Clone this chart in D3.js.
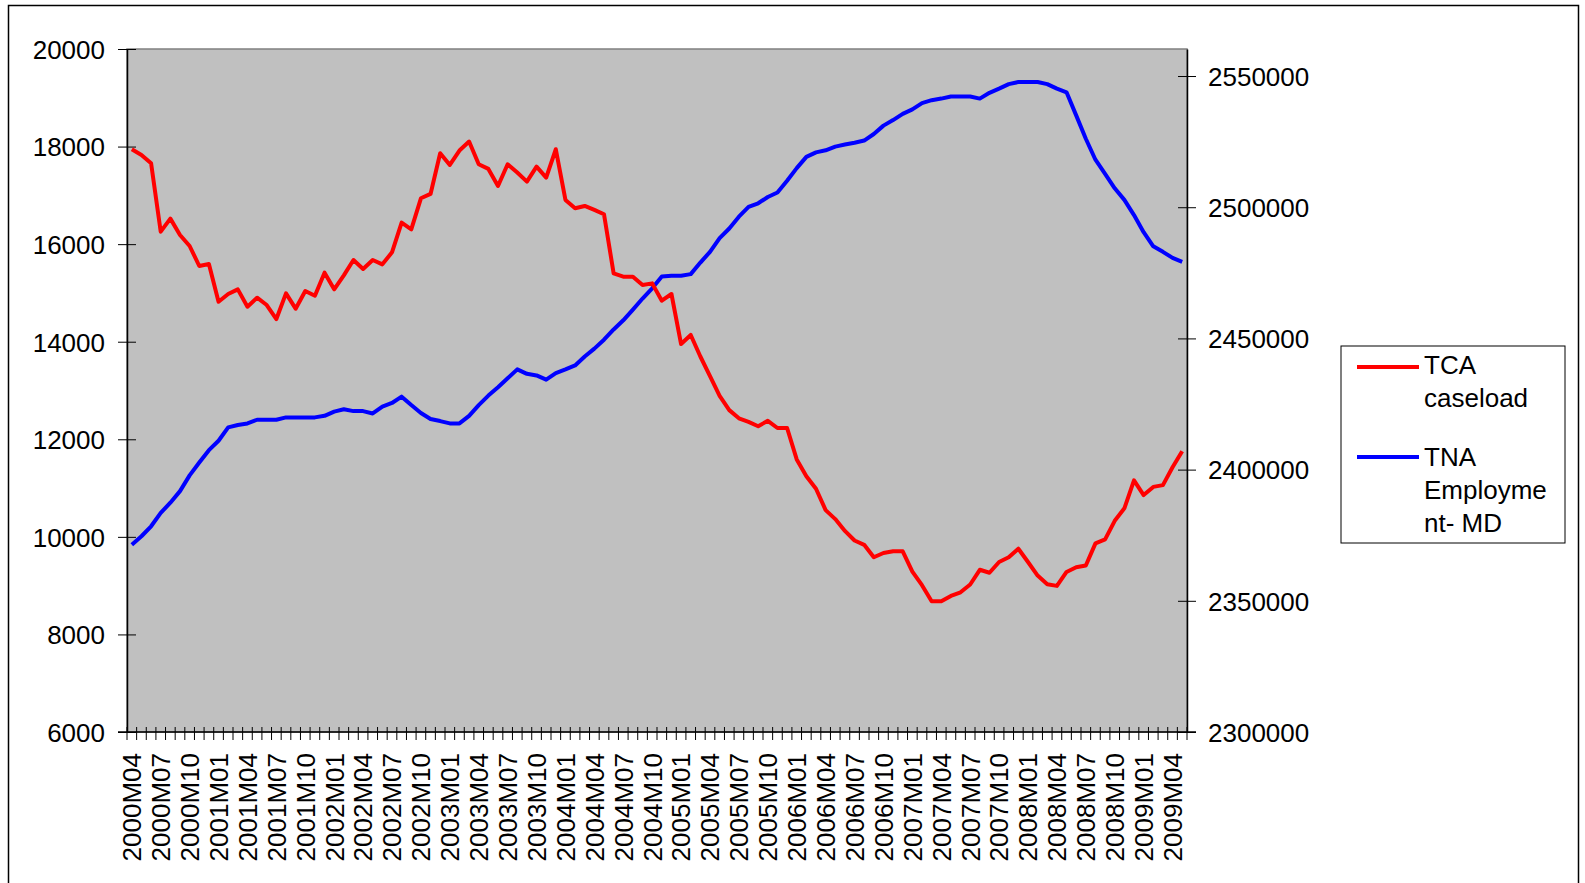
<!DOCTYPE html>
<html>
<head>
<meta charset="utf-8">
<script src="https://cdn.jsdelivr.net/npm/d3@7"></script>
<style>
  body { margin: 0; background: #fff; }
  svg text { font-family: "Liberation Sans", Arial, sans-serif; fill: #000; }
</style>
</head>
<body>
<div id="chart"></div>
<script>
// Common dimensions
const width = 1585, height = 883;
const plot = { left: 127, top: 49, right: 1187, bottom: 732 };

// Months 2000M04 .. 2009M05
const months = [];
for (let y = 2000, m = 4; months.length < 110; m++) {
    if (m > 12) { m = 1; y++; }
    months.push(`${y}M${String(m).padStart(2, "0")}`);
}

// TCA caseload (left axis)
const tcaCaseload = [
    17945, 17829, 17658, 16256, 16523, 16188, 15962, 15552, 15593, 14820,
    14978, 15073, 14718, 14902, 14752, 14465, 14991, 14677, 15039, 14943,
    15415, 15073, 15360, 15675, 15490, 15675, 15586, 15832, 16441, 16304,
    16940, 17029, 17863, 17624, 17918, 18103, 17638, 17542, 17193, 17638,
    17467, 17282, 17590, 17364, 17945, 16906, 16735, 16783, 16701, 16612,
    15402, 15333, 15333, 15162, 15196, 14840, 14978, 13953, 14138, 13697,
    13295, 12891, 12598, 12430, 12356, 12268, 12379, 12231, 12231, 11588,
    11243, 10987, 10548, 10364, 10122, 9925, 9837, 9581, 9669, 9704,
    9704, 9288, 9009, 8679, 8679, 8790, 8864, 9023, 9325, 9265,
    9485, 9581, 9757, 9485, 9206, 9030, 8995, 9280, 9376, 9413,
    9866, 9948, 10329, 10585, 11157, 10856, 11024, 11061, 11428, 11756
];

// TNA Employment - MD (right axis)
const tnaEmployment = [
    2371400, 2374600, 2378400, 2383500, 2387400, 2391800, 2397800, 2402700, 2407400, 2411000,
    2416100, 2417000, 2417600, 2419000, 2419000, 2419000, 2419900, 2419900, 2419900, 2419900,
    2420500, 2422100, 2423000, 2422300, 2422300, 2421400, 2424000, 2425400, 2427800, 2424600,
    2421600, 2419300, 2418500, 2417600, 2417600, 2420500, 2424600, 2428200, 2431400, 2434800,
    2438200, 2436500, 2435900, 2434300, 2436800, 2438200, 2439700, 2443100, 2446100, 2449500,
    2453400, 2456900, 2461000, 2465200, 2469100, 2473600, 2473900, 2473900, 2474500, 2478900,
    2483000, 2488200, 2491900, 2496400, 2500100, 2501500, 2503900, 2505600, 2510100, 2514900,
    2519200, 2520900, 2521700, 2523100, 2523900, 2524600, 2525400, 2527900, 2531100, 2533200,
    2535600, 2537300, 2539700, 2540800, 2541400, 2542200, 2542200, 2542200, 2541400, 2543600,
    2545200, 2546900, 2547700, 2547700, 2547700, 2546900, 2545200, 2543800, 2535000, 2526100,
    2518100, 2512700, 2507200, 2502800, 2497000, 2490500, 2485100, 2483000, 2480700, 2479200
];

const leftTicks = [6000, 8000, 10000, 12000, 14000, 16000, 18000, 20000];
const rightTicks = [2300000, 2350000, 2400000, 2450000, 2500000, 2550000];
const monthLabels = months.filter((d, i) => i % 3 === 0);

const svg = d3.select("#chart").append("svg")
    .attr("width", width)
    .attr("height", height);

// Outer frame
svg.append("rect")
    .attr("x", 8.5).attr("y", 5.5)
    .attr("width", 1570).attr("height", 900)
    .attr("fill", "#fff")
    .attr("stroke", "#000")
    .attr("stroke-width", 1.5);

// Scales
const x = d3.scaleBand().domain(months).range([plot.left, plot.right]).padding(0);
const yLeft = d3.scaleLinear().domain([6000, 20000]).range([plot.bottom, plot.top]);
const yRight = d3.scaleLinear().domain([2300000, 2560300]).range([plot.bottom, plot.top]);

// Plot area
svg.append("rect")
    .attr("x", plot.left).attr("y", plot.top)
    .attr("width", plot.right - plot.left)
    .attr("height", plot.bottom - plot.top)
    .attr("fill", "#c0c0c0")
    .attr("stroke", "#808080")
    .attr("stroke-width", 1.5);

// Left axis
const leftAxis = svg.append("g")
    .attr("transform", `translate(${plot.left},0)`)
    .call(d3.axisLeft(yLeft).tickValues(leftTicks).tickSizeInner(9).tickSizeOuter(0).tickPadding(13).tickFormat(d3.format("d")));
leftAxis.selectAll(".tick line").attr("x2", -9).clone().attr("x2", 9);
leftAxis.select(".domain").attr("stroke", "#000").attr("stroke-width", 1.5);
leftAxis.selectAll("text").style("font-size", "26px").attr("dy", "0.36em");

// Right axis
const rightAxis = svg.append("g")
    .attr("transform", `translate(${plot.right},0)`)
    .call(d3.axisRight(yRight).tickValues(rightTicks).tickSizeInner(9).tickSizeOuter(0).tickPadding(12).tickFormat(d3.format("d")));
rightAxis.selectAll(".tick line").clone().attr("x2", -9);
rightAxis.select(".domain").attr("stroke", "#000").attr("stroke-width", 1.5);
rightAxis.selectAll("text").style("font-size", "26px").attr("dy", "0.36em");

// Bottom axis: crossing ticks at category boundaries, labels every 3rd month
const bottom = svg.append("g");
const boundaries = months.map(d => x(d)).concat([x.range()[1]]);
bottom.selectAll("line.tk").data(boundaries).join("line")
    .attr("class", "tk")
    .attr("x1", d => d).attr("x2", d => d)
    .attr("y1", plot.bottom - 5).attr("y2", plot.bottom + 8)
    .attr("stroke", "#000").attr("stroke-width", 1);
bottom.append("line")
    .attr("x1", plot.left - 9).attr("x2", plot.right + 9)
    .attr("y1", plot.bottom).attr("y2", plot.bottom)
    .attr("stroke", "#000").attr("stroke-width", 1.5);
bottom.selectAll("text").data(monthLabels).join("text")
    .attr("transform", d => `translate(${x(d) + x.bandwidth() / 2},${plot.bottom + 21}) rotate(-90)`)
    .attr("text-anchor", "end")
    .attr("dy", "0.36em")
    .style("font-size", "26px")
    .text(d => d);

// Lines
const lineLeft = d3.line()
    .x((d, i) => x(months[i]) + x.bandwidth() / 2)
    .y(d => yLeft(d));
const lineRight = d3.line()
    .x((d, i) => x(months[i]) + x.bandwidth() / 2)
    .y(d => yRight(d));

svg.append("path")
    .datum(tnaEmployment)
    .attr("d", lineRight)
    .attr("fill", "none")
    .attr("stroke", "#0000ff")
    .attr("stroke-width", 4)
    .attr("stroke-linejoin", "round");

svg.append("path")
    .datum(tcaCaseload)
    .attr("d", lineLeft)
    .attr("fill", "none")
    .attr("stroke", "#ff0000")
    .attr("stroke-width", 4)
    .attr("stroke-linejoin", "round");

// Legend
const legend = svg.append("g");
legend.append("rect")
    .attr("x", 1341).attr("y", 346)
    .attr("width", 224).attr("height", 197)
    .attr("fill", "#fff")
    .attr("stroke", "#000")
    .attr("stroke-width", 1);

const legendItems = [
    { color: "#ff0000", lineY: 367, lines: ["TCA", "caseload"], baseY: 374 },
    { color: "#0000ff", lineY: 457, lines: ["TNA", "Employme", "nt- MD"], baseY: 466 }
];
legendItems.forEach(item => {
    legend.append("line")
        .attr("x1", 1357).attr("x2", 1419)
        .attr("y1", item.lineY).attr("y2", item.lineY)
        .attr("stroke", item.color)
        .attr("stroke-width", 4);
    item.lines.forEach((t, j) => {
        legend.append("text")
            .attr("x", 1424)
            .attr("y", item.baseY + j * 33)
            .style("font-size", "26px")
            .text(t);
    });
});
</script>
</body>
</html>
